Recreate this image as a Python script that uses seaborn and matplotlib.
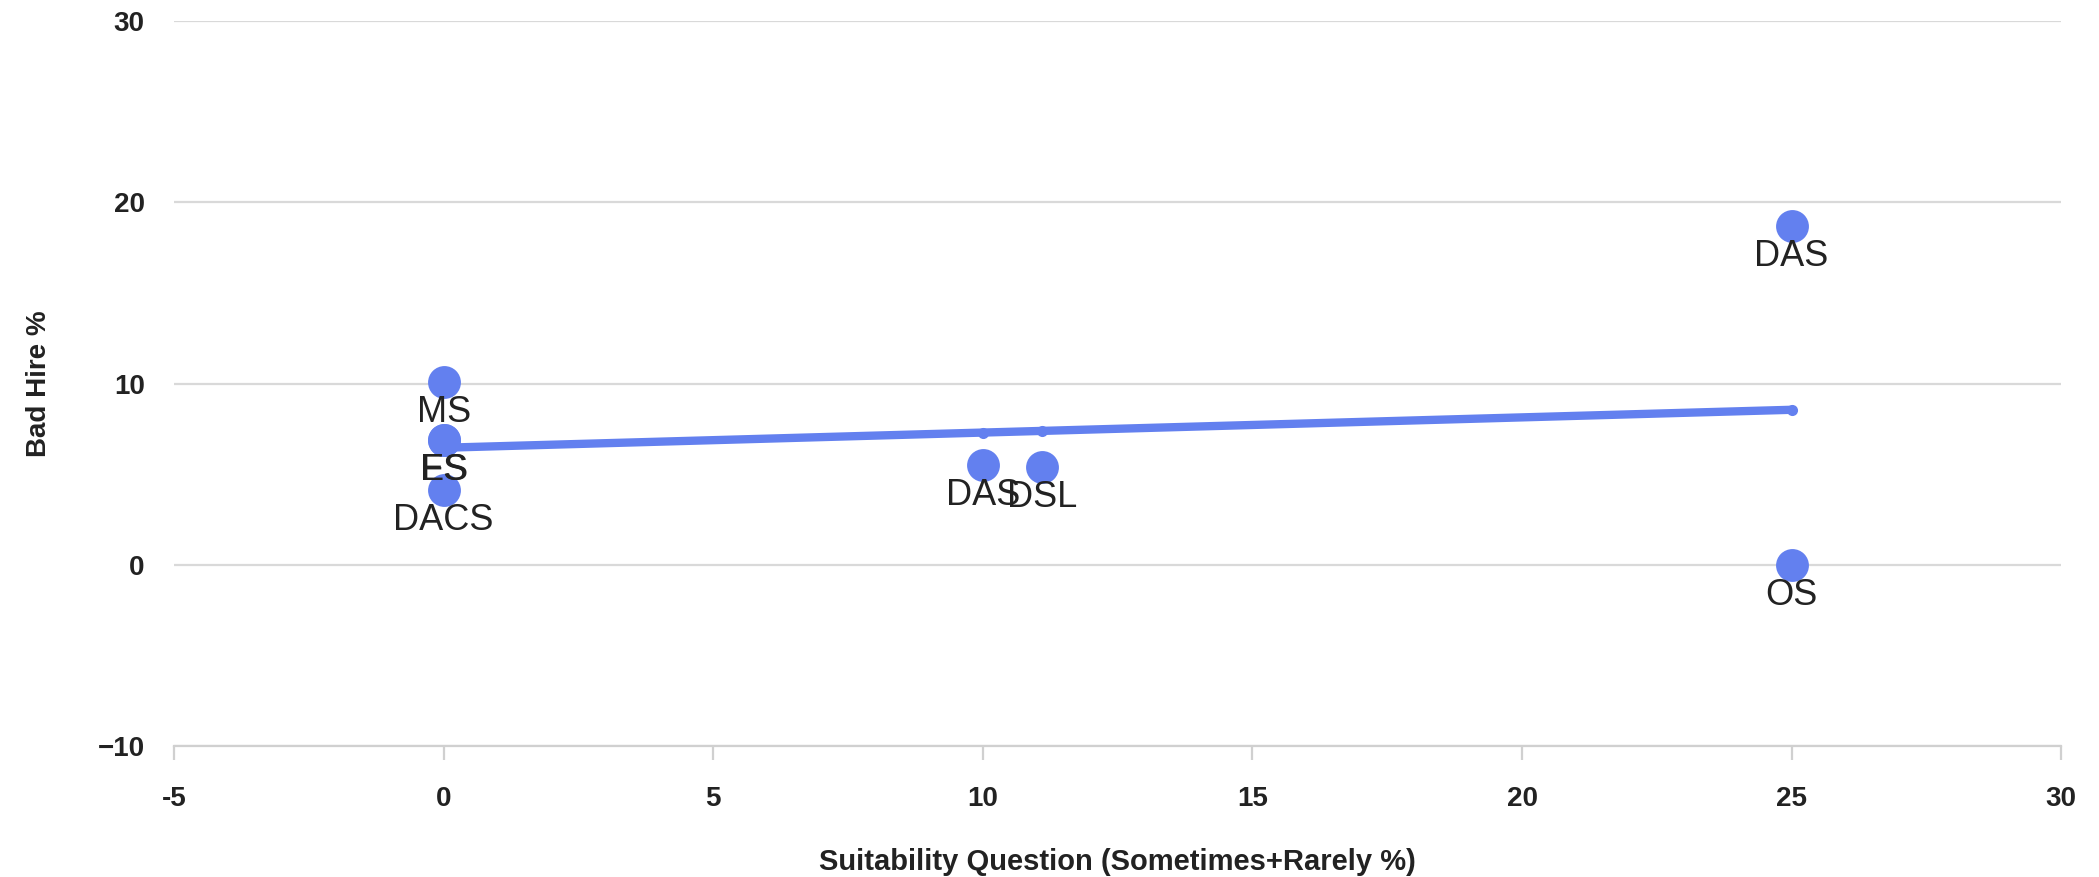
import numpy as np
import pandas as pd
import matplotlib
matplotlib.use("Agg")
import matplotlib.pyplot as plt
import matplotlib.ticker as mticker
import seaborn as sns

# data
labels = ['MS', 'ES', 'FS', 'DACS', 'DAS', 'DSL', 'DAS', 'OS']
suitability = [0, 0, 0, 0, 10, 11.1, 25, 25]
bad_hire = [10.1, 6.9, 6.9, 4.1, 5.5, 5.4, 18.7, 0]

x_ticks = [-5, 0, 5, 10, 15, 20, 25, 30]
y_ticks = [-10, 0, 10, 20, 30]

df = pd.DataFrame({'x': suitability, 'y': bad_hire, 'label': labels})

# linear trend through the points
slope, intercept = np.polyfit(df['x'], df['y'], 1)
trend_x = sorted(set(suitability))
trend = pd.DataFrame({'x': trend_x, 'y': [intercept + slope * v for v in trend_x]})

sns.set_theme(style='white')
plt.rcParams['font.family'] = ['Liberation Sans', 'DejaVu Sans']

point_color = '#6380ef'

fig = plt.figure(figsize=(20.99, 8.77), dpi=100)
ax = fig.add_axes([0.0829, 0.1494, 0.8991, 0.8266])

sns.lineplot(data=trend, x='x', y='y', ax=ax, color=point_color, linewidth=6,
             marker='o', markersize=8, markeredgewidth=0, solid_capstyle='round', zorder=3)
sns.scatterplot(data=df, x='x', y='y', ax=ax, color=point_color, s=560,
                linewidth=0, zorder=4)

for _, r in df.iterrows():
    ax.annotate(r['label'], (r['x'], r['y']), xytext=(0, -22), textcoords='offset points',
                ha='center', va='center', fontsize=26, color='#222222', zorder=5)

ax.set_xlim(-5, 30)
ax.set_ylim(-10, 30)
ax.set_xticks(x_ticks)
ax.set_yticks(y_ticks)
ax.xaxis.set_major_formatter(mticker.FuncFormatter(lambda v, p: f'{v:g}'))

ax.grid(axis='y', color='#d9d9d9', linewidth=1.6)
ax.grid(axis='x', visible=False)
for side in ['top', 'right', 'left']:
    ax.spines[side].set_visible(False)
ax.spines['bottom'].set_color('#d0d0d0')
ax.spines['bottom'].set_linewidth(1.6)

ax.tick_params(axis='x', bottom=True, length=10, width=1.6, color='#d0d0d0', pad=19,
               labelsize=20, labelcolor='#222222')
ax.tick_params(axis='y', left=False, pad=15, labelsize=20, labelcolor='#222222')
for t in ax.get_xticklabels() + ax.get_yticklabels():
    t.set_fontweight('bold')

ax.set_xlabel('Suitability Question (Sometimes+Rarely %)', fontsize=21, fontweight='bold',
              color='#222222', labelpad=26)
ax.set_ylabel('Bad Hire %', fontsize=20, fontweight='bold', color='#222222', labelpad=33)

fig.savefig('out.png', dpi=100)
